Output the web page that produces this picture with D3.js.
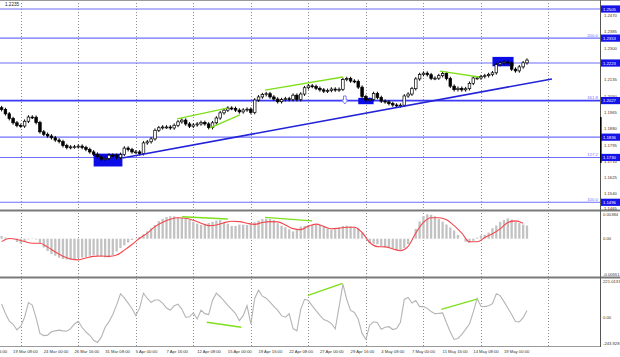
<!DOCTYPE html>
<html><head><meta charset="utf-8">
<script src="https://cdn.jsdelivr.net/npm/d3@7"></script>
<style>html,body{margin:0;padding:0;background:#fff;overflow:hidden}svg{display:block}</style>
</head><body>
<svg id="c" width="620" height="357"></svg>
<script>
// ---------- DATA ----------
const firstBar = 2, barStep = 2;      // price / macd histogram / cci sampled every 2 H4 bars
const firstOpen = 1.1990;
const closes = [1.1980,1.1958,1.1933,1.1911,1.1897,1.1894,1.1919,1.1941,1.1940,1.1912,
1.1864,1.1851,1.1842,1.1833,1.1821,1.1813,1.1792,1.1782,1.1785,1.1786,
1.1789,1.1782,1.1772,1.1759,1.1747,1.1733,1.1721,1.1725,1.1742,1.1741,
1.1729,1.1746,1.1779,1.1771,1.1759,1.1759,1.1750,1.1806,1.1812,1.1827,
1.1872,1.1885,1.1889,1.1889,1.1884,1.1898,1.1916,1.1925,1.1905,1.1893,
1.1900,1.1905,1.1913,1.1905,1.1886,1.1911,1.1936,1.1963,1.1977,1.1988,
1.1986,1.1977,1.1968,1.1978,1.1982,1.1965,1.2030,1.2046,1.2058,1.2063,
1.2046,1.2035,1.2021,1.2032,1.2037,1.2032,1.2055,1.2032,1.2061,1.2094,
1.2104,1.2101,1.2091,1.2083,1.2076,1.2080,1.2087,1.2082,1.2086,1.2137,
1.2142,1.2129,1.2127,1.2097,1.2048,1.2030,1.2033,1.2064,1.2043,1.2024,
1.2020,1.2011,1.2004,1.1999,1.2003,1.2051,1.2061,1.2089,1.2140,1.2163,
1.2170,1.2162,1.2143,1.2144,1.2157,1.2168,1.2142,1.2102,1.2084,1.2091,
1.2083,1.2089,1.2117,1.2145,1.2145,1.2152,1.2157,1.2163,1.2172,1.2215,
1.2223,1.2228,1.2224,1.2191,1.2182,1.2203,1.2224,1.2238];

const macdHist = [0.00039,0.00017,0.00010,0.00003,-0.00047,-0.00069,-0.00047,-0.00011,0.00006,-0.00011,
-0.00062,-0.00127,-0.00177,-0.00220,-0.00246,-0.00273,-0.00292,-0.00299,-0.00306,-0.00292,
-0.00282,-0.00272,-0.00262,-0.00246,-0.00237,-0.00250,-0.00262,-0.00269,-0.00268,-0.00236,
-0.00184,-0.00134,-0.00096,-0.00056,-0.00019,-0.00003,0.00025,0.00065,0.00104,0.00151,
0.00197,0.00252,0.00286,0.00312,0.00322,0.00322,0.00309,0.00299,0.00295,0.00273,
0.00243,0.00217,0.00200,0.00213,0.00227,0.00243,0.00260,0.00268,0.00243,0.00216,
0.00183,0.00184,0.00203,0.00201,0.00197,0.00211,0.00236,0.00259,0.00282,0.00289,
0.00283,0.00269,0.00222,0.00187,0.00164,0.00135,0.00105,0.00132,0.00174,0.00183,
0.00191,0.00197,0.00197,0.00197,0.00174,0.00148,0.00131,0.00137,0.00164,0.00183,
0.00187,0.00178,0.00170,0.00150,0.00082,-0.00004,-0.00062,-0.00072,-0.00082,-0.00105,
-0.00122,-0.00134,-0.00147,-0.00161,-0.00173,-0.00134,-0.00078,0.00002,0.00140,0.00249,
0.00326,0.00351,0.00344,0.00322,0.00283,0.00245,0.00204,0.00161,0.00117,0.00055,
0.00002,-0.00043,-0.00059,-0.00030,0.00014,0.00046,0.00056,0.00088,0.00151,0.00190,
0.00243,0.00270,0.00292,0.00275,0.00246,0.00226,0.00204,0.00190];

const signalStep = 4;   // signal line sampled every 4 bars from firstBar
const macdSignal = [-0.00042,0.00002,-0.00011,-0.00040,-0.00066,-0.00066,-0.00121,-0.00191,-0.00252,-0.00293,
-0.00305,-0.00277,-0.00254,-0.00249,-0.00254,-0.00236,-0.00164,-0.00083,0.00006,0.00081,
0.00173,0.00236,0.00280,0.00301,0.00295,0.00265,0.00222,0.00188,0.00197,0.00230,
0.00250,0.00245,0.00222,0.00206,0.00233,0.00245,0.00242,0.00197,0.00145,0.00131,
0.00181,0.00210,0.00177,0.00142,0.00151,0.00164,0.00164,0.00089,-0.00055,-0.00114,
-0.00118,-0.00147,-0.00173,-0.00111,0.00081,0.00234,0.00302,0.00302,0.00272,0.00188,
0.00079,-0.00045,-0.00045,0.00017,0.00072,0.00142,0.00234,0.00257,0.00222];

const cci = [51,-15,-68,-90,-129,-104,-41,61,44,-46,
-154,-169,-166,-143,-136,-131,-136,-139,-121,-88,
-69,-113,-144,-167,-202,-217,-180,-111,-72,-22,
45,123,94,57,20,-29,24,127,90,63,
79,79,58,23,9,39,50,16,-41,-38,
-11,-53,8,-16,-23,78,127,102,73,42,
13,-15,-65,-30,39,-88,90,148,106,92,
65,35,7,-30,-41,-17,-121,-136,14,84,
76,38,5,-28,-57,-67,-85,-122,31,190,
83,7,-8,-55,-154,-196,-95,-73,-80,-125,
-111,-107,-127,-120,-76,83,97,58,76,33,
33,21,-1,-16,-14,-11,-80,-144,-196,-189,
-160,-126,-88,-4,90,35,33,39,54,123,
110,68,24,-22,-71,-74,-44,6];

const dateLabels = ["16 Mar 16:00","19 Mar 08:00","24 Mar 00:00","26 Mar 16:00","31 Mar 08:00","5 Apr 00:00",
"7 Apr 16:00","12 Apr 08:00","15 Apr 00:00","19 Apr 16:00","22 Apr 08:00","27 Apr 00:00","29 Apr 16:00",
"4 May 08:00","7 May 00:00","11 May 16:00","14 May 08:00","19 May 00:00"];
const dateLabelBars = [-8,8,24,40,56,72,88,104,120,136,152,168,184,200,216,232,248,264];
const gridBars = [12,42,72,102,132,162,192,222,252,287];

const levelValues = [1.2505,1.2353,1.2223,1.2027,1.1836,1.1730,1.1496];
const levelLabels = ["1.2505","1.2353","1.2223","1.2027","1.1836","1.1730","1.1496"];
const fibValues = [1.2353,1.2027,1.1730,1.1496];
const fibLabels = ["200.0","161.8","127.2","100.0"];
const priceTicks = ["1.2470","1.2385","1.2300","1.2135","1.2050","1.1965","1.1880","1.1795","1.1710","1.1625","1.1540","1.1465"];
const currentPrice = "1.2235";

const boxes = [[50,65,1.1750,1.1683],[188,196,1.2041,1.2008],[258,269,1.2255,1.2206]];
const trendLine = [65,1.1727,289,1.2140];
const greenPrice = [[93.5,1.1931,119.6,1.1988],[110.7,1.1884,126.3,1.1952],[139.4,1.2082,180,1.2150],[230.6,1.2181,251,1.2150]];
const greenMacd = [[96.1,0.00316,120,0.00283],[139.4,0.00308,163.9,0.00255]];
const greenCci = [[109,-76,127,-111],[161.8,112,179.8,196],[231.3,14,249.9,86]];
const arrowMark = [181,1.2051,1.2009];

const macdTicks = ["0.00384","0.00","-0.00551"];
const macdTickVals = [0.00384,0,-0.00551];
const cciTicks = ["221.0133","0.00","-243.928"];
const cciTickVals = [221.0133,0,-243.928];

// ---------- SCALES ----------
const W = 620, AX = 600.5;
const x = d3.scaleLinear().domain([0,100]).range([-2.24,189.51]);
const yP = d3.scaleLinear().domain([1.1496,1.2505]).range([202.3,9]);
const yM = d3.scaleLinear().domain([-0.00551,0.00384]).range([277,212]);
const yC = d3.scaleLinear().domain([-243.928,221.0133]).range([346.3,279.7]);
const barOf = i => firstBar + i*barStep;

const svg = d3.select("#c");
const FONT = "Liberation Sans, Arial, sans-serif";
svg.append("rect").attr("width",W).attr("height",357).attr("fill","#fff");

const defs = svg.append("defs");
defs.append("clipPath").attr("id","cpP").append("rect").attr("x",0).attr("y",0).attr("width",AX).attr("height",209);
defs.append("clipPath").attr("id","cpM").append("rect").attr("x",0).attr("y",212).attr("width",AX).attr("height",64.5);
defs.append("clipPath").attr("id","cpC").append("rect").attr("x",0).attr("y",279).attr("width",AX).attr("height",67.5);

// vertical dotted grid
svg.append("g").selectAll("line").data(gridBars).join("line")
  .attr("x1",d=>Math.round(x(d))+0.5).attr("x2",d=>Math.round(x(d))+0.5)
  .attr("y1",0).attr("y2",346.5)
  .attr("stroke","#8c8c8c").attr("stroke-width",1).attr("stroke-dasharray","1,2");

// ---------- PRICE PANEL ----------
const gP = svg.append("g").attr("clip-path","url(#cpP)");
gP.selectAll("line.lvl").data(levelValues).join("line").attr("class","lvl")
  .attr("x1",0).attr("x2",AX).attr("y1",d=>yP(d)).attr("y2",d=>yP(d))
  .attr("stroke",d=>d===1.2027?"#3b3bf5":"#6f6fff")
  .attr("stroke-width",d=>d===1.2027?1.7:1.1);

gP.selectAll("rect.box").data(boxes).join("rect").attr("class","box")
  .attr("x",d=>x(d[0])).attr("width",d=>x(d[1])-x(d[0]))
  .attr("y",d=>yP(d[2])).attr("height",d=>yP(d[3])-yP(d[2]))
  .attr("fill","#0c0ce6");

// candles
const candles = closes.map((c,i)=>({bar:barOf(i), o: i? closes[i-1]:firstOpen, c}));
const gc = gP.append("g");
gc.selectAll("line").data(candles).join("line")
  .attr("x1",d=>x(d.bar)).attr("x2",d=>x(d.bar))
  .attr("y1",d=>yP(Math.max(d.o,d.c))-1.8).attr("y2",d=>yP(Math.min(d.o,d.c))+1.8)
  .attr("stroke","#000").attr("stroke-width",1);
gc.selectAll("rect").data(candles).join("rect")
  .attr("x",d=>x(d.bar)-1.3).attr("width",2.6)
  .attr("y",d=>yP(Math.max(d.o,d.c))).attr("height",d=>Math.max(0.9,Math.abs(yP(d.o)-yP(d.c))))
  .attr("fill",d=>d.c>=d.o?"#fff":"#000").attr("stroke","#000").attr("stroke-width",0.7);

gP.append("line").attr("x1",x(trendLine[0])).attr("y1",yP(trendLine[1]))
  .attr("x2",x(trendLine[2])).attr("y2",yP(trendLine[3]))
  .attr("stroke","#2222d8").attr("stroke-width",1.6);

gP.selectAll("line.g").data(greenPrice).join("line").attr("class","g")
  .attr("x1",d=>x(d[0])).attr("y1",d=>yP(d[1])).attr("x2",d=>x(d[2])).attr("y2",d=>yP(d[3]))
  .attr("stroke","#7ee01a").attr("stroke-width",1.3);

// hollow down arrow
{
  const ax = x(arrowMark[0]), yt = yP(arrowMark[1]), yb = yP(arrowMark[2]);
  const h = yb-yt, mid = yt + h*0.5;
  gP.append("path")
    .attr("d",`M${ax-1.3},${yt}L${ax+1.3},${yt}L${ax+1.3},${mid}L${ax+3},${mid}L${ax},${yb}L${ax-3},${mid}L${ax-1.3},${mid}Z`)
    .attr("fill","#fff").attr("stroke","#5b5bff").attr("stroke-width",0.8);
}

// fib labels
svg.selectAll("text.fib").data(fibValues).join("text").attr("class","fib")
  .attr("x",598).attr("y",d=>yP(d)-1.3).attr("text-anchor","end")
  .attr("font-family",FONT).attr("font-size",4.3).attr("fill","#6f6fff")
  .text((d,i)=>fibLabels[i]);

svg.append("text").attr("x",5).attr("y",6).attr("font-family",FONT).attr("font-size",4.6)
  .attr("fill","#222").text(currentPrice);

// ---------- MACD PANEL ----------
const gM = svg.append("g").attr("clip-path","url(#cpM)");
gM.selectAll("rect").data(macdHist).join("rect")
  .attr("x",(d,i)=>x(barOf(i))-1.15).attr("width",2.3)
  .attr("y",d=>Math.min(yM(d),yM(0))).attr("height",d=>Math.abs(yM(d)-yM(0)))
  .attr("fill","#c2c2c2");
gM.append("path").datum(macdSignal)
  .attr("d",d3.line().x((d,i)=>x(firstBar+i*signalStep)).y(d=>yM(d)).curve(d3.curveMonotoneX))
  .attr("fill","none").attr("stroke","#f2474c").attr("stroke-width",1.1);
gM.selectAll("line.g").data(greenMacd).join("line").attr("class","g")
  .attr("x1",d=>x(d[0])).attr("y1",d=>yM(d[1])).attr("x2",d=>x(d[2])).attr("y2",d=>yM(d[3]))
  .attr("stroke","#7ee01a").attr("stroke-width",1.3);

// ---------- CCI PANEL ----------
const gC = svg.append("g").attr("clip-path","url(#cpC)");
gC.append("path").datum(cci)
  .attr("d",d3.line().x((d,i)=>x(barOf(i))).y(d=>yC(d)))
  .attr("fill","none").attr("stroke","#b4b4b4").attr("stroke-width",1.1);
gC.selectAll("line.g").data(greenCci).join("line").attr("class","g")
  .attr("x1",d=>x(d[0])).attr("y1",d=>yC(d[1])).attr("x2",d=>x(d[2])).attr("y2",d=>yC(d[3]))
  .attr("stroke","#7ee01a").attr("stroke-width",1.3);

// ---------- FRAMES ----------
svg.append("line").attr("x1",0).attr("x2",W).attr("y1",0.5).attr("y2",0.5).attr("stroke","#9a9a9a");
[210.5,277.5].forEach(v=>svg.append("line").attr("x1",0).attr("x2",W).attr("y1",v).attr("y2",v)
  .attr("stroke","#7a7a7a").attr("stroke-width",2.2));
svg.append("line").attr("x1",0).attr("x2",AX).attr("y1",346.5).attr("y2",346.5).attr("stroke","#9a9a9a");
svg.append("line").attr("x1",AX).attr("x2",AX).attr("y1",0).attr("y2",347).attr("stroke","#555");
svg.append("line").attr("x1",AX+0.3).attr("x2",AX+0.3).attr("y1",117).attr("y2",163).attr("stroke","#000").attr("stroke-width",1.6);

// ---------- RIGHT AXIS ----------
const rax = svg.append("g").attr("font-family",FONT).attr("font-size",4.2);
rax.selectAll("text.pt").data(priceTicks).join("text").attr("class","pt")
  .attr("x",604).attr("y",d=>yP(+d)).attr("dominant-baseline","central").attr("fill","#333").text(d=>d);
rax.selectAll("rect.lb").data(levelValues).join("rect").attr("class","lb")
  .attr("x",AX+0.5).attr("width",W-AX-0.5).attr("y",d=>yP(d)-3.6).attr("height",7.2).attr("fill","#1414e8");
rax.selectAll("text.lb").data(levelValues).join("text").attr("class","lb")
  .attr("x",603).attr("y",d=>yP(d)).attr("dominant-baseline","central").attr("fill","#fff")
  .text((d,i)=>levelLabels[i]);
rax.selectAll("text.mt").data(macdTickVals).join("text").attr("class","mt")
  .attr("x",603).attr("y",(d,i)=>yM(d)+(i===0?2.5:i===2?-3:0)).attr("dominant-baseline","central")
  .attr("fill","#333").text((d,i)=>macdTicks[i]);
rax.selectAll("text.ct").data(cciTickVals).join("text").attr("class","ct")
  .attr("x",603).attr("y",(d,i)=>yC(d)+(i===0?1.8:i===2?-2.6:6)).attr("dominant-baseline","central")
  .attr("fill","#333").text((d,i)=>cciTicks[i]);

// ---------- BOTTOM AXIS ----------
svg.append("g").selectAll("text").data(dateLabelBars).join("text")
  .attr("x",d=>x(d)).attr("y",351.5).attr("dominant-baseline","central")
  .attr("font-family",FONT).attr("font-size",4.2).attr("fill","#333")
  .text((d,i)=>dateLabels[i]);
</script>
</body></html>
